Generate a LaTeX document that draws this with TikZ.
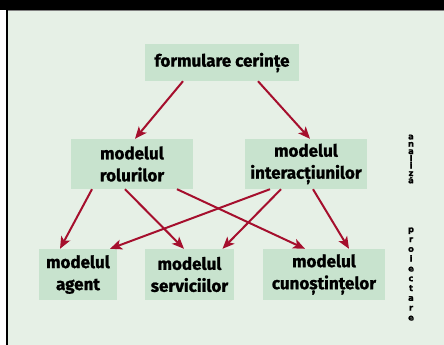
\documentclass[tikz,border=0pt]{standalone}
\usepackage{fontspec}
\setmainfont{Fira Sans}[BoldFeatures={FakeBold=1.2}]
\newfontfamily\sidefont{DejaVu Sans}[BoldFeatures={FakeBold=1}]
\usepackage{xcolor}
\usetikzlibrary{
    arrows.meta,
    positioning
}
\definecolor{bgrnd}{HTML}{E6F0E6}
\definecolor{boxgreen}{HTML}{C8E3CE}
\definecolor{arrowred}{HTML}{A50F2D}

\begin{document}
\begin{tikzpicture}[x=1pt, y=-1pt,
    model/.style={fill=boxgreen, align=center, inner sep=0pt, minimum height=50pt,
                  font=\fontsize{17}{22}\selectfont\bfseries},
    flow/.style={-{Stealth[length=12pt, width=10pt, inset=3pt]}, arrowred, line width=2pt},
    side/.style={align=center, inner sep=0pt, font=\sidefont\bfseries\fontsize{8.5}{7.3}\selectfont}]
                        \useasboundingbox (0, 0) rectangle (444, 345);
                        \fill[white] (0, 0) rectangle (444, 345);
                        \fill[bgrnd] (8, 11) rectangle (444, 345);
                        \fill[black] (0, 0) rectangle (444, 10);
                        \draw[gray, line width=1pt] (7, 10.5) -- (444, 10.5);
                        \draw[black, line width=2pt] (7, 10) -- (7, 345);

                        \node[model, minimum width=154pt, minimum height=37pt] (form) at (222, 62.5) {formulare cerințe};

                        \node[model, minimum width=122pt] (rol) at (132, 164) {modelul\\rolurilor};
                        \node[model, minimum width=122pt] (inter) at (306, 164) {modelul\\interacțiunilor};

                        \node[model, minimum width=78pt, minimum height=51pt] (agent) at (78, 274.5) {modelul\\agent};
                        \node[model, minimum width=89pt, minimum height=51pt] (serv) at (189.5, 274.5) {modelul\\serviciilor};
                        \node[model, minimum width=122pt, minimum height=51pt] (cun) at (324, 274.5) {modelul\\cunoștințelor};

                        \node[side] (analiza) at (411, 159) {a\\n\\a\\l\\i\\z\\ă};
                        \node[side, font=\sidefont\bfseries\fontsize{8.5}{9.8}\selectfont] (proiect) at (411, 274) {p\\r\\o\\i\\e\\c\\t\\a\\r\\e};

                        \draw
                        ([xshift=-39pt]form.south) edge[flow] ([xshift=3pt]rol.north)
                        ([xshift=36pt]form.south) edge[flow] ([xshift=4pt]inter.north)
                        ([xshift=-40pt]rol.south) edge[flow] ([xshift=-18pt]agent.north)
                        ([xshift=-7pt]rol.south) edge[flow] ([xshift=-5.5pt]serv.north)
                        ([xshift=45pt]rol.south) edge[flow] ([xshift=-19pt]cun.north)
                        ([xshift=-36pt]inter.south) edge[flow] ([xshift=32pt]agent.north)
                        ([xshift=-25pt]inter.south) edge[flow] ([xshift=33pt]serv.north)
                        ([xshift=7pt]inter.south) edge[flow] ([xshift=25pt]cun.north);
                    \end{tikzpicture}
\end{document}
